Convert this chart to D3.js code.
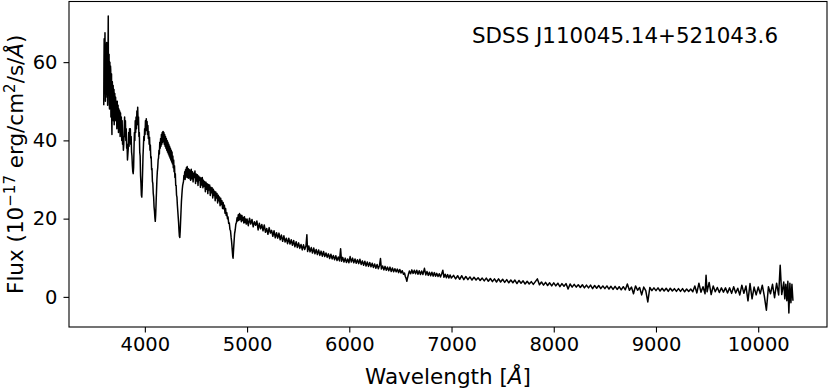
<!DOCTYPE html>
<html>
<head>
<meta charset="utf-8">
<script src="https://cdn.jsdelivr.net/npm/d3@7"></script>
<style>
  html, body { margin: 0; padding: 0; background: #fff; }
  svg text { font-family: "DejaVu Sans", sans-serif; fill: #000; }
</style>
</head>
<body>
<svg id="chart" width="830" height="391"></svg>
<script>
// ---------------- data ----------------
const title = "SDSS J110045.14+521043.6";
const xTicks = [4000, 5000, 6000, 7000, 8000, 9000, 10000];
const yTicks = [0, 20, 40, 60];
const xDomain = [3258, 10673];
const yDomain = [-7.7, 75.5];

// [wavelength (Å), flux (1e-17 erg/cm2/s/Å)]
const specBlue = [
 [3598,49],[3600,60],[3602,66],[3604,54],[3606,52],[3608,62],[3610,67.5],[3612,57],[3614,50],[3616,59],[3618,63],[3620,52],[3622,55],[3624,64],[3626,65],[3628,53],[3630,51],[3632,58],[3634,61],
 [3636,49],[3638,54],[3640,63],[3642,71.8],[3644,52],[3646,56],[3648,60],[3650,62],[3652,50],[3654,48],[3656,58],[3658,60],[3660,49],[3662,51],[3664,59],[3666,58],[3668,46],[3670,47],[3672,56],[3674,57],
 [3676,45],[3678,41.5],[3680,52],[3682,55],[3684,46],[3686,48],[3688,53],[3690,54],[3692,45],[3694,47],[3696,52],[3698,53],[3700,44],[3702,46],[3706,52],[3710,45],[3714,51],
 [3718,46],[3722,50],[3726,43],[3730,50],[3734,44],[3738,49],[3742,42],[3746,48],[3750,43],[3754,47.5],
 [3758,41],[3762,47],[3766,42],[3770,46],[3774,40],[3778,45],[3782,39],[3786,41],[3790,37.5],[3794,39],
 [3798,43],[3802,46],[3806,41],[3810,45],[3814,40],[3818,43],[3822,38],[3826,39],[3830,35],[3834,36.5],
 [3838,38],[3842,42],[3846,38.5],[3850,43],[3854,40],[3858,43],[3862,39],[3866,41],[3870,37],[3874,36],
 [3878,33.5],[3882,32],[3886,31.5],[3890,33],[3894,38],[3898,42],[3902,40],[3906,45],[3910,42],[3914,46],
 [3918,43],[3922,47.5],[3926,44],[3930,48.5],[3934,44.5],[3938,46],[3942,41],[3946,42],[3950,37],[3954,36],
 [3958,31],[3962,29],[3966,26],[3970,25.5],[3974,28],[3978,32],[3982,36],[3986,38.5],[3990,41],[3994,40],
 [3998,43],[4002,41.5],[4006,45],[4010,42.5],[4014,45.5],[4018,42.5],[4022,44.8],[4026,41.5],[4030,43.8],[4034,40.5],
 [4038,42.3],[4042,39],[4046,40.8],[4050,37.5],[4054,38.8],[4058,35.5],[4062,35.8],[4066,32.5],[4070,32.8],[4074,29.5],
 [4078,29],[4082,26.5],[4086,25.5],[4090,23],[4094,22],[4098,20.3],[4102,19.3],[4106,21],[4110,24],[4114,27],
 [4118,30],[4122,32],[4126,33],[4130,35],[4134,35.5],[4138,37.5],[4142,36.5],[4146,39.5],[4150,38],[4154,40.5],
 [4158,38.5],[4162,41.5],[4166,39],[4170,42],[4174,39.5],[4178,42.3],[4182,40],[4186,42],[4190,39],[4194,41.5],
 [4198,38.5],[4202,41],[4206,38],[4210,40.5],[4214,37.5],[4218,40],[4222,37],[4226,39.5],[4230,36.5],[4234,39],
 [4238,36],[4242,38.5],[4246,35.5],[4250,38],[4254,35],[4258,37.5],[4262,34.5],[4266,37],[4270,34],[4274,36],
 [4278,33],[4282,35],[4286,32],[4290,33.5],[4294,30.5],[4298,31.5],[4302,28.5],[4306,28.5],[4310,26],[4314,25.5],
 [4318,23.5],[4322,22],[4326,20.5],[4330,19],[4334,17],[4338,15.5],[4342,15.2],[4346,17],[4350,19.5],[4354,22],
 [4358,24.5],[4362,26],[4366,27.5],[4370,28.5],[4374,29],[4378,29.5],[4382,31],[4386,30.5],[4390,32],[4394,30],
 [4398,32.5],[4402,30.5],[4406,33],[4410,31],[4414,33.3],[4418,30.5],[4422,32.8],[4426,30.3],[4430,32.6],[4434,30.6],
 [4438,32.4],[4442,30.2]
];
const specGreen = [
 [4448,29.8],[4454,32.6],[4460,30.2],[4466,32.0],[4472,29.4],[4478,31.6],[4484,30.5],[4490,32.2],[4496,29.0],[4502,31.4],
 [4508,29.6],[4514,31.2],[4520,28.5],[4526,30.9],[4532,29.8],[4538,30.6],[4544,28.0],[4550,30.4],[4556,28.6],[4562,30.5],
 [4568,27.9],[4574,29.8],[4580,28.3],[4586,29.4],[4592,26.9],[4598,29.3],[4604,27.5],[4610,28.9],[4616,26.4],[4622,28.7],
 [4628,27.3],[4634,28.6],[4640,25.9],[4646,28.0],[4652,26.6],[4658,27.9],[4664,25.3],[4670,27.5],[4676,25.9],[4682,27.0],
 [4688,24.6],[4694,26.8],[4700,25.3],[4706,26.4],[4712,24.0],[4718,26.0],[4724,24.6],[4730,25.5],[4736,23.3],[4742,25.2],
 [4748,23.6],[4754,24.6],[4760,22.6],[4766,24.1],[4772,22.5],[4778,23.4],[4784,21.4],[4790,22.6],[4796,20.8],[4802,21.5],
 [4808,20.0],[4814,20.4],[4820,18.8],[4826,18.9],[4832,17.3],[4838,16.9],[4844,15.2],[4848,14.3],[4852,13.0],[4856,11.6],
 [4860,10.3],[4863,9.9],[4866,11.2],[4870,13.0],[4874,14.6],[4878,16.2],[4884,17.1],[4890,18.6],[4896,19.0],[4902,20.2],
 [4908,19.4],[4914,21.0],[4920,19.6],[4926,21.3],[4932,19.8],[4938,20.9],[4944,19.2],[4950,20.8],[4956,19.5],[4962,20.3],
 [4968,18.9],[4974,20.5],[4980,19.0],[4986,19.9],[4992,18.6],[5000,19.9],
 [5012,18.2],[5024,20.1],[5036,18.6],[5048,19.8],[5060,17.9],[5072,19.2],[5084,18.3],[5096,19.4],[5108,17.1],[5120,18.8],
 [5132,17.4],[5144,18.5],[5156,16.9],[5168,18.4],[5180,16.5],[5192,17.5],[5204,16.0],[5216,17.7],[5228,16.3],[5240,17.0],
 [5252,15.5],[5264,16.9],[5276,15.1],[5288,16.4],[5300,15.0],[5312,16.3],[5324,14.6],[5336,15.8],[5348,14.2],[5360,15.6],
 [5372,14.0],[5384,15.0],[5396,13.6],[5408,15.0],[5420,13.5],[5432,14.6],[5444,13.2],[5456,14.4],[5468,12.8],[5480,14.1],
 [5492,12.6],[5504,13.8],[5516,12.4],[5528,13.4],[5540,12.0],[5552,13.3],[5564,12.1],[5576,13.0],[5585,15.9],[5592,11.6],
 [5604,13.0],[5616,11.5],[5628,12.6],[5640,11.2],[5652,12.5],[5664,11.0],[5676,12.1],[5688,10.8],[5700,12.0],[5712,10.6],
 [5724,11.7],[5736,10.4],[5748,11.6],[5760,10.3],[5772,11.2],[5784,10.1],[5796,11.0],[5808,9.8],[5820,10.9],[5832,9.7],
 [5844,10.6],[5856,9.5],[5868,10.5],[5880,9.3],[5892,10.2],[5904,9.2],[5915,12.3],[5924,9.1],[5936,10.1],[5948,8.9],
 [5960,9.9],[5972,8.8],[5984,9.7],[5996,8.7]
];
const specRed = [
 [6008,10.3],[6020,8.9],[6032,9.9],[6044,8.7],[6056,9.7],[6068,8.6],[6080,9.5],[6092,8.5],[6104,9.6],[6116,8.3],
 [6128,9.2],[6140,8.1],[6152,9.1],[6164,7.9],[6176,8.9],[6188,7.8],[6200,8.8],[6212,7.7],[6224,8.6],[6236,7.5],
 [6248,8.4],[6260,7.3],[6272,8.3],[6284,7.2],[6296,8.1],[6305,9.8],[6314,7.1],[6326,7.9],[6338,6.9],[6350,7.8],
 [6362,6.8],[6374,7.6],[6386,6.7],[6398,7.6],[6410,6.5],[6422,7.4],[6434,6.4],[6446,7.2],[6458,6.4],[6470,7.1],
 [6482,6.2],[6494,7.0],[6506,6.1],[6518,6.7],[6530,5.8],[6540,6.1],[6548,5.2],[6555,4.8],[6563,4.0],[6570,4.9],
 [6578,5.7],[6588,6.6],[6600,5.9],[6612,6.9],[6624,6.0],[6636,6.8],[6648,5.9],[6660,6.8],[6672,5.8],[6684,6.7],
 [6696,5.7],[6708,6.6],[6720,5.7],[6735,7.3],[6748,5.6],[6760,6.5],[6772,5.5],[6784,6.3],[6796,5.4],[6808,6.3],
 [6820,5.3],[6832,6.2],[6844,5.3],[6856,6.0],[6868,5.2],[6880,5.9],[6892,5.1],[6904,5.9],[6915,6.8],[6926,5.0],
 [6938,5.8],[6950,4.9],[6962,5.7],[6974,4.8],[6986,5.6],[6998,4.8],
 [7020,5.5],[7040,4.6],[7060,5.4],[7080,4.5],[7100,5.4],[7120,4.4],[7140,5.2],[7160,4.4],[7180,5.1],[7200,4.3],
 [7220,5.0],[7240,4.3],[7260,4.9],[7280,4.2],[7300,4.8],[7320,4.1],[7340,4.8],[7360,4.0],[7380,4.7],[7400,3.9],
 [7420,4.6],[7440,3.8],[7460,4.6],[7480,3.8],[7500,4.5],[7520,3.7],[7540,4.4],[7560,3.6],[7580,4.3],[7600,3.6],
 [7620,4.3],[7640,3.4],[7660,4.2],[7680,3.5],[7700,4.1],[7720,3.3],[7740,4.0],[7760,3.3],[7780,3.9],[7800,3.2],
 [7820,3.9],[7840,4.6],[7860,3.1],[7880,3.8],[7900,3.0],[7920,3.7],[7940,2.9],[7960,3.6],[7980,2.8],[8000,3.6]
];
const specNIR = [
 [8020,2.8],[8040,3.5],[8060,2.6],[8080,3.4],[8100,2.7],[8120,3.4],[8140,2.0],[8160,3.3],[8180,2.5],[8200,3.2],
 [8220,2.5],[8240,3.1],[8260,2.4],[8280,3.1],[8300,2.3],[8320,3.0],[8340,2.3],[8360,3.0],[8380,2.1],[8400,2.9],
 [8420,2.2],[8440,2.9],[8460,2.1],[8480,2.8],[8500,2.1],[8520,2.8],[8540,2.0],[8560,2.7],[8580,1.9],[8600,2.7],
 [8620,1.9],[8640,2.6],[8660,1.8],[8680,2.6],[8700,1.8],[8720,3.3],[8740,1.7],[8760,2.5],[8780,0.8],[8800,2.8],
 [8820,1.7],[8840,2.4],[8860,0.5],[8880,2.5],[8900,1.6],[8920,-1.3],[8940,2.4],[8960,1.6],[8980,2.3],[9000,1.6],
 [9020,2.3],[9040,1.5],[9060,2.2],[9080,1.5],[9100,2.2],[9120,1.4],[9140,2.2],[9160,1.5],[9180,2.1],[9200,1.4],
 [9220,2.1],[9240,1.4],[9260,2.1],[9280,1.3],[9300,2.0],[9320,1.4],[9340,2.0],[9360,1.3],[9380,2.8],[9400,1.0],
 [9420,3.5],[9440,1.2],[9460,2.6],[9480,0.8],[9490,5.5],[9500,1.3],[9520,3.7],[9540,0.6],[9560,2.8],[9580,1.3],
 [9600,2.4],[9620,1.1],[9640,2.3],[9660,1.2],[9680,2.3],[9700,1.0],[9720,2.3],[9740,0.9],[9760,2.6],[9780,1.0],
 [9800,2.2],[9820,0.5],[9840,3.0],[9860,0.9],[9880,2.8],[9900,-1.0],[9920,3.4],[9940,-0.5],[9960,2.5],[9980,0.5],
 [10000,2.5],[10020,0.8],[10040,3.0],[10060,0.2],[10080,-3.4],[10100,2.6],[10120,0.8],[10140,3.2],[10160,-0.2],[10180,3.5],
 [10200,0.5],[10215,8.1],[10230,0.6],[10250,3.8],[10260,-0.5],[10270,3.2],[10280,-1.0],[10290,4.0],[10300,-4.1],[10310,3.5],
 [10320,-1.5],[10330,3.2],[10340,-1.0]
];

// ---------------- drawing ----------------
const spectrum = specBlue.concat(specGreen, specRed, specNIR);
const svg = d3.select("#chart");
const L = 69, R = 827, T = 1.5, B = 327;

const x = d3.scaleLinear().domain(xDomain).range([L, R]);
const y = d3.scaleLinear().domain(yDomain).range([B, T]);

const line = d3.line().x(d => x(d[0])).y(d => y(d[1]));
svg.append("path")
  .datum(spectrum)
  .attr("d", line)
  .attr("fill", "none")
  .attr("stroke", "#000")
  .attr("stroke-width", 1.5)
  .attr("stroke-linejoin", "round");

const xAxis = svg.append("g").attr("transform", `translate(0,${B})`)
  .call(d3.axisBottom(x).tickValues(xTicks).tickFormat(d3.format("d")).tickSize(5.5).tickPadding(5));
const yAxis = svg.append("g").attr("transform", `translate(${L},0)`)
  .call(d3.axisLeft(y).tickValues(yTicks).tickFormat(d3.format("d")).tickSize(5.5).tickPadding(6));
[xAxis, yAxis].forEach(g => {
  g.select(".domain").remove();
  g.selectAll("line").attr("stroke", "#000").attr("stroke-width", 1.1);
  g.selectAll("text").style("font-family", "DejaVu Sans").style("font-size", "19.5px").attr("fill", "#000");
});

svg.append("rect").attr("x", L).attr("y", T).attr("width", R - L).attr("height", B - T)
  .attr("fill", "none").attr("stroke", "#000").attr("stroke-width", 1.1);

// title inside the plot
svg.append("text").attr("x", 778).attr("y", 43).attr("text-anchor", "end")
  .style("font-size", "21.4px").text(title);

// x label
const xl = svg.append("text").attr("x", (L + R) / 2).attr("y", 384).attr("text-anchor", "middle")
  .style("font-size", "21.5px");
xl.append("tspan").text("Wavelength [");
xl.append("tspan").style("font-style", "italic").text("Å");
xl.append("tspan").text("]");

// y label
const yl = svg.append("text").attr("transform", `translate(22.5,${(T + B) / 2}) rotate(-90)`)
  .attr("text-anchor", "middle").style("font-size", "21.5px");
yl.append("tspan").text("Flux (10");
yl.append("tspan").attr("dy", -8).style("font-size", "15px").text("−17");
yl.append("tspan").attr("dy", 8).text(" erg/cm");
yl.append("tspan").attr("dy", -8).style("font-size", "15px").text("2");
yl.append("tspan").attr("dy", 8).text("/s/");
yl.append("tspan").style("font-style", "italic").text("Å");
yl.append("tspan").text(")");
</script>
</body>
</html>
